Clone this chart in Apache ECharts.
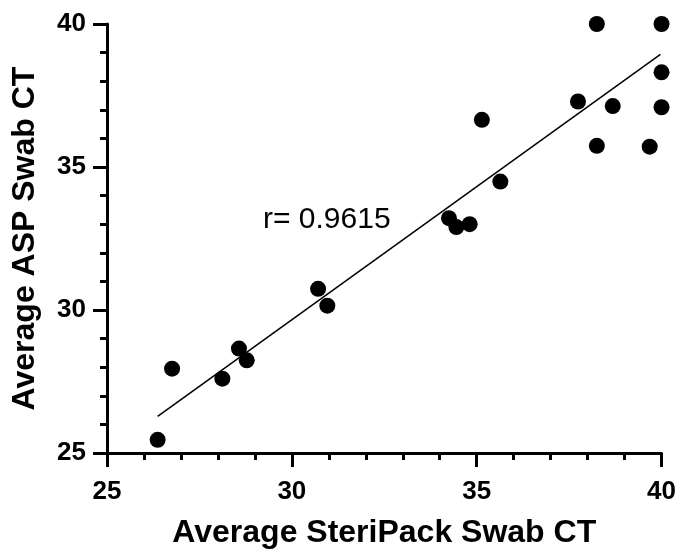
<!DOCTYPE html>
<html>
<head>
<meta charset="utf-8">
<script src="https://cdn.jsdelivr.net/npm/echarts@6/dist/echarts.min.js"></script>
<style>html,body{margin:0;padding:0;background:#fff}#c{width:679px;height:554px}</style>
</head>
<body>
<div id="c"></div>
<script>
var steriPackCT = [26.37, 26.76, 28.12, 28.57, 28.78, 30.71, 30.96, 34.25, 34.45, 34.81, 35.14, 35.64, 37.74, 38.25, 38.25, 38.68, 39.68, 40.0, 40.0, 40.0];
var aspCT       = [25.46, 27.95, 27.60, 28.65, 28.24, 30.74, 30.15, 33.21, 32.90, 33.00, 36.65, 34.49, 37.29, 40.0, 35.74, 37.13, 35.71, 40.0, 38.31, 37.09];
var fitX = [26.37, 39.97];
var fitY = [26.28, 38.94];
var xTicks = [25, 30, 35, 40];
var yTicks = [25, 30, 35, 40];
var rText = 'r= 0.9615';

var FONT = '"Liberation Sans", Arial, Helvetica, sans-serif';
var pts = steriPackCT.map(function (x, i) { return [x, aspCT[i]]; });
var fit = fitX.map(function (x, i) { return [x, fitY[i]]; });

function axis(name, ticks, isX) {
  return {
    type: 'value',
    min: ticks[0],
    max: ticks[ticks.length - 1],
    interval: ticks[1] - ticks[0],
    name: name,
    nameLocation: 'middle',
    nameGap: isX ? 64 : 66,
    nameTextStyle: { fontFamily: FONT, fontSize: 32, fontWeight: 'bold', color: '#000' },
    axisLine: { show: true, onZero: false, lineStyle: { color: '#000', width: 3 } },
    axisTick: { show: true, length: 14, lineStyle: { color: '#000', width: 3 } },
    minorTick: { show: true, splitNumber: 5, length: 7, lineStyle: { color: '#000', width: 3 } },
    splitLine: { show: false },
    axisLabel: { fontFamily: FONT, fontSize: 26, fontWeight: 'bold', color: '#000', margin: isX ? 26 : 21 }
  };
}

var chart = echarts.init(document.getElementById('c'), null, { renderer: 'canvas' });
chart.setOption({
  animation: false,
  backgroundColor: '#fff',
  title: {
    text: rText, left: 258, top: 200,
    textStyle: { fontFamily: FONT, fontSize: 30, fontWeight: 'normal', color: '#000' }
  },
  grid: { left: 107, right: 17, top: 24, bottom: 101, containLabel: false },
  xAxis: axis('Average SteriPack Swab CT', xTicks, true),
  yAxis: axis('Average ASP Swab CT', yTicks, false),
  series: [
    { type: 'line', data: fit, symbol: 'none', lineStyle: { color: '#000', width: 1.5 }, z: 1 },
    { type: 'scatter', data: pts, symbol: 'circle', symbolSize: 16, itemStyle: { color: '#000', opacity: 1 }, z: 2 }
  ]
});
</script>
</body>
</html>
